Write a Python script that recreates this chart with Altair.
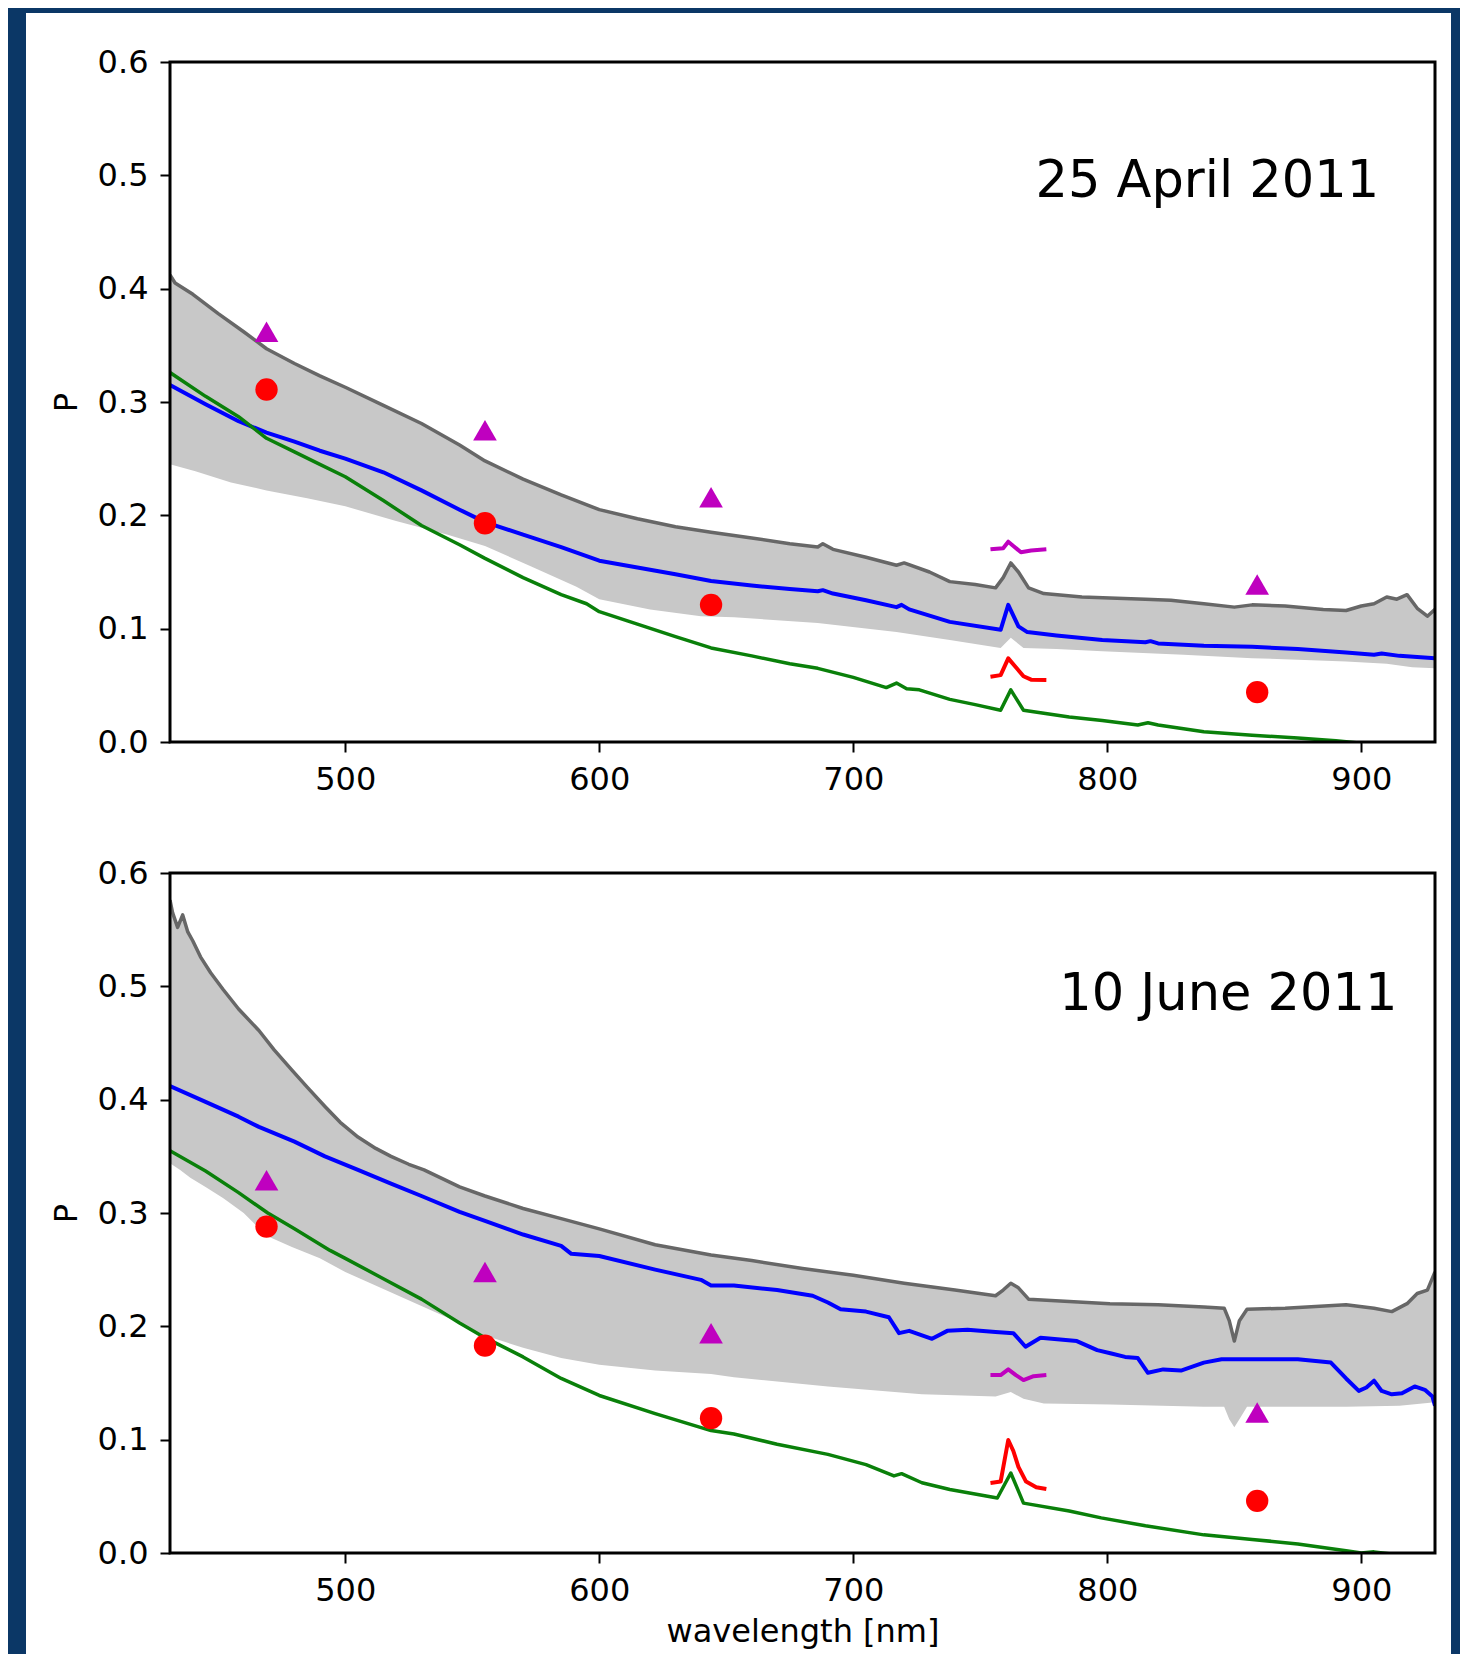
import altair as alt
import pandas as pd

FONT = "DejaVu Sans"
X_MIN, X_MAX = 431, 929
W, H = 1265, 680

x_ticks = [500, 600, 700, 800, 900]
y_ticks = [0.0, 0.1, 0.2, 0.3, 0.4, 0.5, 0.6]

# ---------------- 25 April 2011 ----------------
apr_upper = [(431, 0.412), (433, 0.405), (440, 0.395), (450, 0.378), (460, 0.362), (469, 0.347),
             (480, 0.334), (490, 0.323), (500, 0.313), (515, 0.297), (530, 0.281), (545, 0.262),
             (555, 0.248), (570, 0.232), (585, 0.218), (600, 0.205), (615, 0.197), (630, 0.190),
             (644, 0.185), (660, 0.180), (675, 0.175), (686, 0.172), (688, 0.175), (692, 0.170),
             (705, 0.163), (717, 0.156), (720, 0.158), (730, 0.150), (738, 0.1415), (748, 0.139),
             (756, 0.136), (759, 0.145), (762, 0.158), (765, 0.150), (769, 0.136), (775, 0.131),
             (790, 0.128), (801, 0.127), (815, 0.126), (825, 0.125), (838, 0.122), (850, 0.119),
             (857, 0.121), (870, 0.120), (885, 0.117), (894, 0.116), (900, 0.120), (905, 0.122),
             (910, 0.128), (914, 0.126), (918, 0.130), (922, 0.118), (926, 0.111), (929, 0.117)]
apr_lower = [(431, 0.245), (441, 0.239), (455, 0.229), (469, 0.222), (485, 0.215), (500, 0.208),
             (520, 0.195), (540, 0.183), (555, 0.173), (573, 0.155), (591, 0.137), (600, 0.126),
             (620, 0.117), (640, 0.111), (653, 0.110), (686, 0.105), (717, 0.097), (738, 0.090),
             (758, 0.083), (762, 0.092), (767, 0.083), (780, 0.082), (798, 0.080), (830, 0.077),
             (857, 0.074), (894, 0.071), (910, 0.069), (920, 0.066), (929, 0.065)]
apr_blue = [(431, 0.315), (445, 0.298), (458, 0.283), (469, 0.273), (480, 0.265), (490, 0.257),
            (500, 0.250), (515, 0.238), (530, 0.222), (545, 0.205), (555, 0.194), (570, 0.183),
            (585, 0.172), (600, 0.160), (615, 0.154), (630, 0.148), (644, 0.142), (660, 0.138),
            (675, 0.135), (686, 0.133), (688, 0.134), (692, 0.131), (705, 0.125), (717, 0.119),
            (719, 0.121), (722, 0.117), (738, 0.106), (758, 0.099), (761, 0.121), (765, 0.102),
            (768.5, 0.097), (780, 0.094), (798, 0.090), (815, 0.088), (817, 0.089), (820, 0.087),
            (838, 0.085), (857, 0.084), (875, 0.082), (894, 0.079), (905, 0.077), (908, 0.078),
            (915, 0.076), (929, 0.074)]
apr_green = [(431, 0.326), (445, 0.305), (458, 0.287), (469, 0.268), (480, 0.256), (490, 0.245),
             (500, 0.234), (515, 0.213), (530, 0.191), (545, 0.174), (555, 0.162), (570, 0.145),
             (585, 0.130), (595, 0.122), (600, 0.115), (615, 0.104), (630, 0.093), (644, 0.083),
             (660, 0.076), (675, 0.069), (686, 0.065), (700, 0.057), (713, 0.048), (717, 0.052),
             (721, 0.047), (726, 0.046), (738, 0.0376), (748, 0.033), (758, 0.028), (762, 0.046),
             (767, 0.028), (785, 0.022), (798, 0.019), (812, 0.015), (816, 0.017), (820, 0.015),
             (838, 0.009), (857, 0.006), (875, 0.0035), (890, 0.001), (900, -0.001), (915, -0.004),
             (929, -0.007)]
apr_mag = [(754, 0.170), (759, 0.171), (761, 0.1767), (763, 0.173), (766, 0.1674), (770, 0.169), (776, 0.170)]
apr_red = [(754, 0.0576), (758, 0.059), (761, 0.0738), (764, 0.066), (767, 0.058), (770, 0.055), (776, 0.0547)]
apr_tri = [(469, 0.362), (555, 0.275), (644, 0.216), (859, 0.139)]
apr_circ = [(469, 0.311), (555, 0.193), (644, 0.121), (859, 0.044)]
apr_label = [(907, 0.481, "25 April 2011")]

# ---------------- 10 June 2011 ----------------
jun_upper = [(431, 0.576), (432, 0.565), (434, 0.552), (436, 0.563), (438, 0.548), (440, 0.540),
             (443, 0.526), (447, 0.512), (452, 0.497), (458, 0.480), (466, 0.461), (472, 0.444),
             (479, 0.426), (485, 0.411), (492, 0.394), (498, 0.380), (505, 0.367), (512, 0.357),
             (518, 0.350), (525, 0.343), (531, 0.338), (545, 0.323), (555, 0.315), (570, 0.304),
             (585, 0.295), (600, 0.286), (622, 0.272), (644, 0.263), (660, 0.258), (680, 0.251),
             (700, 0.245), (720, 0.238), (740, 0.232), (756, 0.227), (759, 0.232), (762, 0.238),
             (765, 0.234), (769, 0.224), (785, 0.222), (801, 0.220), (820, 0.219), (838, 0.217),
             (846, 0.216), (848, 0.205), (850, 0.187), (852, 0.205), (855, 0.215), (870, 0.216),
             (894, 0.219), (905, 0.216), (912, 0.213), (918, 0.220), (922, 0.229), (926, 0.232),
             (929, 0.248)]
jun_lower = [(431, 0.344), (435, 0.338), (439, 0.331), (445, 0.323), (452, 0.313), (460, 0.300),
             (469, 0.280), (479, 0.270), (490, 0.260), (500, 0.248), (515, 0.233), (530, 0.218),
             (545, 0.203), (555, 0.192), (570, 0.181), (585, 0.172), (600, 0.166), (622, 0.161),
             (644, 0.158), (653, 0.155), (690, 0.147), (727, 0.140), (756, 0.138), (762, 0.142),
             (767, 0.136), (775, 0.132), (801, 0.131), (838, 0.129), (846, 0.129), (848, 0.118),
             (850, 0.111), (852, 0.118), (855, 0.129), (894, 0.129), (915, 0.130), (929, 0.133)]
jun_blue = [(431, 0.412), (445, 0.398), (458, 0.385), (466, 0.376), (480, 0.363), (492, 0.350),
            (505, 0.338), (518, 0.326), (530, 0.315), (545, 0.301), (555, 0.293), (570, 0.281),
            (585, 0.271), (589, 0.264), (600, 0.262), (622, 0.250), (640, 0.241), (644, 0.236),
            (653, 0.236), (670, 0.232), (684, 0.227), (690, 0.221), (695, 0.215), (705, 0.213),
            (714, 0.208), (718, 0.194), (722, 0.196), (731, 0.189), (737, 0.196), (745, 0.197),
            (756, 0.195), (763, 0.194), (767.8, 0.182), (773.7, 0.190), (788, 0.187), (796, 0.179),
            (801.6, 0.176), (807, 0.173), (812, 0.172), (816, 0.159), (822, 0.162), (829, 0.161),
            (838, 0.168), (845, 0.171), (857, 0.171), (875, 0.171), (888, 0.168), (894, 0.154),
            (899, 0.143), (902, 0.146), (905, 0.152), (908, 0.143), (912, 0.140), (916, 0.141),
            (921, 0.147), (925, 0.144), (928, 0.138), (929, 0.130)]
jun_green = [(431, 0.355), (445, 0.337), (458, 0.318), (469.5, 0.300), (480, 0.286), (494, 0.267),
             (500, 0.260), (515, 0.242), (530, 0.224), (545, 0.203), (555, 0.190), (570, 0.173),
             (585, 0.154), (600, 0.139), (622, 0.123), (644, 0.108), (653, 0.105), (670, 0.096),
             (690, 0.087), (705, 0.078), (716, 0.068), (719, 0.070), (727, 0.062), (738, 0.056),
             (756.7, 0.0485), (762, 0.0706), (767, 0.044), (785, 0.037), (797.6, 0.031), (815, 0.024),
             (838, 0.016), (857, 0.012), (875, 0.008), (894, 0.002), (900, 0.0), (905, 0.001),
             (916, -0.002), (929, -0.006)]
jun_mag = [(754, 0.157), (758, 0.157), (761, 0.162), (764, 0.157), (767, 0.1526), (771, 0.156), (776, 0.157)]
jun_red = [(754, 0.0618), (758, 0.063), (761, 0.0997), (763, 0.090), (765, 0.076), (768, 0.063), (772, 0.058), (776, 0.0565)]
jun_tri = [(469, 0.329), (555, 0.248), (644, 0.194), (859, 0.124)]
jun_circ = [(469, 0.288), (555, 0.183), (644, 0.119), (859, 0.046)]
jun_label = [(914.2, 0.479, "10 June 2011")]

GRAY_FILL = "#c8c8c8"
GRAY_LINE = "#676767"
BLUE = "#0000ff"
GREEN = "#0a800a"
MAGENTA = "#bf00bf"
RED = "#ff0000"
NAVY = "#0b3766"


def df(pairs):
    return pd.DataFrame(pairs, columns=["wl", "P"])


def panel(upper, lower, blue, green, mag, red, tri, circ, label, xtitle, rect_top, rect_bottom):
    xaxis = alt.Axis(values=x_ticks, format="d", labelFontSize=32, labelFont=FONT, labelColor="black",
                     tickColor="black", tickSize=10, tickWidth=2, labelPadding=12, domain=False,
                     grid=False, zindex=1, labelFlush=False, title=xtitle, titleFont=FONT,
                     titleFontSize=32, titleFontWeight="normal", titleColor="black", titlePadding=10)
    yaxis = alt.Axis(values=y_ticks, format=".1f", labelFontSize=32, labelFont=FONT, labelColor="black",
                     tickColor="black", tickSize=10, tickWidth=2, labelPadding=12, domain=False,
                     grid=False, zindex=1, labelFlush=False, title="P", titleFont=FONT,
                     titleFontSize=32, titleFontWeight="normal", titleColor="black", titlePadding=14)
    X = alt.X("wl:Q", scale=alt.Scale(domain=[X_MIN, X_MAX], nice=False, zero=False), axis=xaxis)
    Y = alt.Y("P:Q", scale=alt.Scale(domain=[0, 0.6], nice=False, zero=False), axis=yaxis)

    one = pd.DataFrame({"k": [0]})
    white = alt.Chart(one).mark_rect(color="white", clip=False).encode(
        x=alt.value(-144), x2=alt.value(W + 16), y=alt.value(rect_top), y2=alt.value(H + rect_bottom))
    band = alt.Chart(df(upper)).mark_area(color=GRAY_FILL, clip=True, opacity=1).encode(x=X, y=Y)
    unband = alt.Chart(df(lower)).mark_area(color="white", clip=True, opacity=1).encode(x=X, y=Y)
    gline = alt.Chart(df(upper)).mark_line(color=GRAY_LINE, strokeWidth=3.5, clip=True,
                                           strokeJoin="round").encode(x=X, y=Y)
    bline = alt.Chart(df(blue)).mark_line(color=BLUE, strokeWidth=4, clip=True,
                                          strokeJoin="round").encode(x=X, y=Y)
    grline = alt.Chart(df(green)).mark_line(color=GREEN, strokeWidth=3.5, clip=True,
                                            strokeJoin="round").encode(x=X, y=Y)
    mline = alt.Chart(df(mag)).mark_line(color=MAGENTA, strokeWidth=4, clip=True,
                                         strokeJoin="round").encode(x=X, y=Y)
    rline = alt.Chart(df(red)).mark_line(color=RED, strokeWidth=4, clip=True,
                                         strokeJoin="round").encode(x=X, y=Y)
    tris = alt.Chart(df(tri)).mark_point(shape="triangle-up", filled=True, size=560, color=MAGENTA,
                                         opacity=1).encode(x=X, y=Y)
    circs = alt.Chart(df(circ)).mark_circle(size=500, color=RED, opacity=1).encode(x=X, y=Y)
    lab = pd.DataFrame(label, columns=["wl", "P", "text"])
    txt = alt.Chart(lab).mark_text(align="right", baseline="alphabetic", font=FONT, fontSize=51,
                                   color="black").encode(x=X, y=Y, text="text:N")
    frame = alt.Chart(one).mark_rect(fillOpacity=0, stroke="black", strokeWidth=3).encode(
        x=alt.value(0), x2=alt.value(W), y=alt.value(0), y2=alt.value(H))
    return alt.layer(white, band, unband, gline, bline, grline, mline, rline, tris, circs, txt,
                     frame).properties(width=W, height=H)


top = panel(apr_upper, apr_lower, apr_blue, apr_green, apr_mag, apr_red, apr_tri, apr_circ,
            apr_label, None, -49, 66)
bottom = panel(jun_upper, jun_lower, jun_blue, jun_green, jun_mag, jun_red, jun_tri, jun_circ,
               jun_label, "wavelength [nm]", -66, 101)

chart = alt.vconcat(top, bottom, spacing=131, bounds="flush").properties(
    padding={"left": 18, "top": 5, "right": 9, "bottom": 0}
).configure(background=NAVY).configure_view(strokeWidth=0)

chart.save("out.html", embed_options={"renderer": "svg", "actions": False})
